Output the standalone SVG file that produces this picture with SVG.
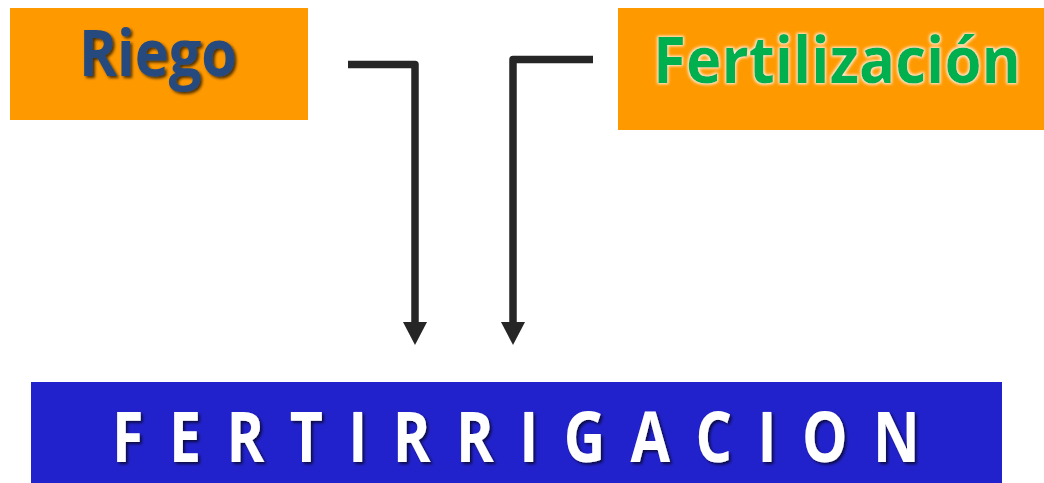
<svg xmlns="http://www.w3.org/2000/svg" width="1044" height="483" viewBox="0 0 1044 483">
<style>
.box-o{fill:#FF9900;}
.box-b{fill:#2222CC;}
.lbl{font-family:"Open Sans","Liberation Sans",sans-serif;font-weight:bold;}
.conn{fill:none;stroke:#262626;stroke-width:7.5;stroke-linejoin:round;}
</style>
<defs>
<filter id="shDark" x="-10%" y="-20%" width="130%" height="150%">
<feDropShadow dx="2" dy="2" stdDeviation="1.5" flood-color="#000" flood-opacity="0.7"/>
</filter>
<filter id="glow" x="-10%" y="-20%" width="120%" height="150%">
<feMorphology in="SourceAlpha" operator="dilate" radius="1" result="d"/>
<feGaussianBlur in="d" stdDeviation="1.5" result="b"/>
<feFlood flood-color="#fff" flood-opacity="0.9"/>
<feComposite in2="b" operator="in" result="g"/>
<feMerge><feMergeNode in="g"/><feMergeNode in="SourceGraphic"/></feMerge>
</filter>
</defs>
<g id="riego">
<rect class="box-o" x="10" y="8" width="298" height="112"/>
<text class="lbl" x="79" y="76" font-size="64" fill="#264A7E" textLength="158" lengthAdjust="spacingAndGlyphs" filter="url(#shDark)">Riego</text>
</g>
<g id="fertilizacion">
<rect class="box-o" x="618" y="8" width="426" height="122"/>
<text class="lbl" x="653" y="83" font-size="64" fill="#00B050" textLength="368" lengthAdjust="spacingAndGlyphs" filter="url(#glow)">Fertilización</text>
</g>
<g id="fertirrigacion">
<rect class="box-b" x="31" y="382" width="971" height="101"/>
<g filter="url(#shDark)">
<text class="lbl" transform="translate(112,462) scale(0.82,1)" x="0" y="0" font-size="70" fill="#FFFFFF" textLength="985" lengthAdjust="spacing">FERTIRRIGACION</text>
</g>
</g>
<g id="connectors">
<path class="conn" d="M348,64.5 H415 V322"/>
<polygon points="403,322 427,322 415,345" fill="#262626"/>
<path class="conn" d="M593,59.5 H513 V322"/>
<polygon points="501,322 525,322 513,345" fill="#262626"/>
</g>
</svg>
